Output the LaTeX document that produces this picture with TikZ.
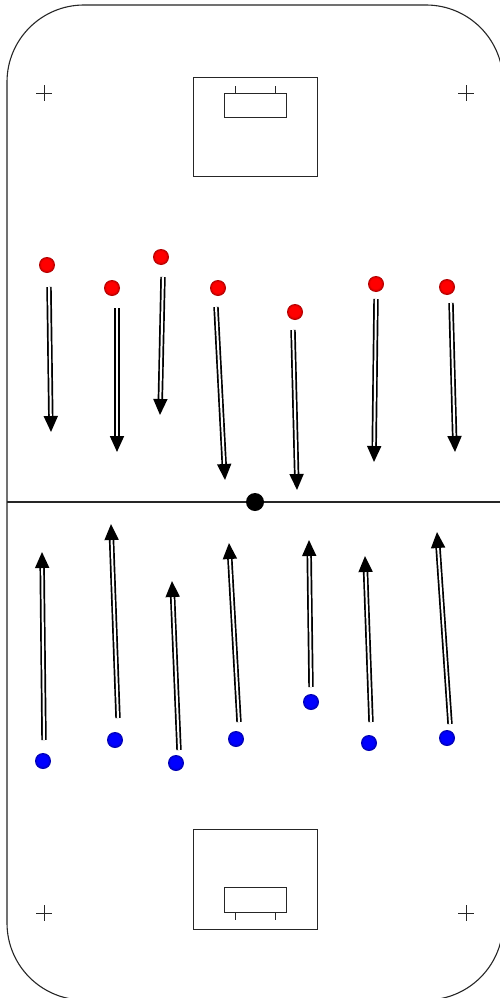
\documentclass[tikz,border=0pt]{standalone}
\usetikzlibrary{arrows.meta}
% player discs: bright face, darkening towards the lower right rim
\pgfdeclareradialshading{redball}{\pgfpoint{-3bp}{3bp}}{%
  color(0bp)=(red); color(17bp)=(red); color(24bp)=(red!70!black); color(28bp)=(red!45!black); color(50bp)=(red!45!black)}
\pgfdeclareradialshading{blueball}{\pgfpoint{-3bp}{3bp}}{%
  color(0bp)=(blue); color(17bp)=(blue); color(24bp)=(blue!70!black); color(28bp)=(blue!45!black); color(50bp)=(blue!45!black)}
\begin{document}
\begin{tikzpicture}[x=1pt,y=-1pt,
  rinkline/.style={line width=1.1pt,black!85},
  thin line/.style={line width=0.9pt,black!85},
  redplayer/.style={circle,inner sep=0pt,minimum size=16pt,shading=redball,draw=none},
  blueplayer/.style={circle,inner sep=0pt,minimum size=16pt,shading=blueball,draw=none},
  run/.style={double,double distance=2pt,line width=1.7pt,-{Triangle[length=16pt,width=14pt]}},
  puck/.style={circle,fill=black,inner sep=0pt,minimum size=18pt}]
\useasboundingbox (0,0) rectangle (500,998);
\fill[white] (0,0) rectangle (500,998);

% rink boards
\draw[rinkline] (7,5) [rounded corners=77pt] -- (503,5) -- (503,1000) -- (7,1000) -- cycle;
\draw[rinkline] (7,502) -- (500,502);

% goal areas
\draw[thin line] (193,77) rectangle (317,176);
\draw[thin line] (224,93) rectangle (286,117);
\draw[thin line] (235,86) -- (235,93) (275,86) -- (275,93);
\draw[thin line] (193,829) rectangle (317,929);
\draw[thin line] (224,887) rectangle (286,912);
\draw[thin line] (235,912) -- (235,920) (275,912) -- (275,920);

% corner marks
\foreach \p/\q in {44/93,466/93,44/913,466/913}
  \draw[thin line] (\p-8,\q) -- (\p+8,\q) (\p,\q-8) -- (\p,\q+8);

\node[puck] (puck) at (255,502) {};

% red players and their runs
\foreach \n/\px/\py/\sx/\sy/\ex/\ey in {
  1/47/265/49/287/51/432,
  2/112/288/117/308/117/452,
  3/161/257/163/277/160/415,
  4/218/288/216/307/225/480,
  5/295/312/293/330/297/490,
  6/376/284/376/299/374/462,
  7/447/287/451/303/455/452}{
  \node[redplayer] (r\n) at (\px,\py) {};
  \coordinate (rs\n) at (\sx,\sy);
  \coordinate (re\n) at (\ex,\ey);
  \draw[run] (rs\n) -- (re\n);
}

% blue players and their runs
\foreach \n/\px/\py/\sx/\sy/\ex/\ey in {
  1/43/761/44/740/42/552,
  2/115/740/118/718/111/524,
  3/176/763/179/750/172/581,
  4/236/739/239/722/229/543,
  5/311/702/311/687/309/540,
  6/369/743/371/722/365/556,
  7/447/738/450/724/437/532}{
  \node[blueplayer] (b\n) at (\px,\py) {};
  \coordinate (bs\n) at (\sx,\sy);
  \coordinate (be\n) at (\ex,\ey);
  \draw[run] (bs\n) -- (be\n);
}
\end{tikzpicture}
\end{document}
